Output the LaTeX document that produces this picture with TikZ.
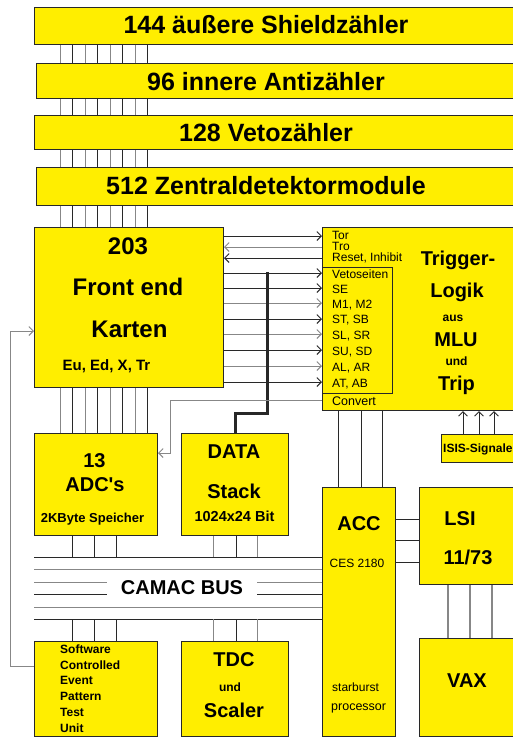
\documentclass[tikz,border=0pt]{standalone}
\usepackage{fontspec}
\setmainfont{Liberation Sans}
\usetikzlibrary{arrows.meta}
\definecolor{yel}{RGB}{255,238,0}
\definecolor{dk}{RGB}{40,40,40}
\definecolor{gr}{RGB}{135,135,135}
\begin{document}
\begin{tikzpicture}[x=1pt,y=-1pt,
  >={Straight Barb[length=4.5pt,width=9pt]},
  box/.style={draw=dk, fill=yel, line width=1pt, inner sep=0pt, anchor=north west},
  ln/.style={draw=dk, line width=0.9pt},
  lg/.style={draw=gr, line width=0.9pt},
  lgt/.style={draw=gr, line width=1.4pt},
  thickln/.style={draw=dk, line width=3pt},
  b25/.style={font=\bfseries\fontsize{25}{30}\selectfont, inner sep=0pt, text height=17.9pt, text depth=0pt},
  b24/.style={font=\bfseries\fontsize{24}{28}\selectfont, inner sep=0pt, text height=17.2pt, text depth=0pt},
  b20/.style={font=\bfseries\fontsize{20}{24}\selectfont, inner sep=0pt, text height=14.3pt, text depth=0pt},
  b15/.style={font=\bfseries\fontsize{15}{18}\selectfont, inner sep=0pt, text height=10.7pt, text depth=0pt},
  b14/.style={font=\bfseries\fontsize{14.5}{17}\selectfont, inner sep=0pt, text height=10.4pt, text depth=0pt},
  b13/.style={font=\bfseries\fontsize{13}{16}\selectfont, inner sep=0pt, text height=9.3pt, text depth=0pt},
  b12/.style={font=\bfseries\fontsize{12}{14}\selectfont, inner sep=0pt, text height=8.6pt, text depth=0pt},
  r12/.style={font=\fontsize{12}{14}\selectfont, inner sep=0pt, text height=8.6pt, text depth=0pt},
  r125/.style={font=\fontsize{12.5}{15}\selectfont, inner sep=0pt, text height=9pt, text depth=0pt}
]
\useasboundingbox (0,0) rectangle (513,737);
\fill[white] (0,0) rectangle (513,737);
\clip (0,0) rectangle (513,737);

% boxes
\node[box, minimum width=490pt, minimum height=37pt] (bar1) at (34,7) {};
\node[box, minimum width=490pt, minimum height=35pt] (bar2) at (36,63) {};
\node[box, minimum width=490pt, minimum height=34pt] (bar3) at (34,115) {};
\node[box, minimum width=490pt, minimum height=38pt] (bar4) at (36,167) {};
\node[box, minimum width=189pt, minimum height=160pt] (fe) at (34,227) {};
\node[box, minimum width=200pt, minimum height=183pt] (trig) at (322,227) {};
\node[box, minimum width=70pt, minimum height=126pt] (veto) at (322,267) {};
\node[box, minimum width=123pt, minimum height=102pt] (adc) at (34,433) {};
\node[box, minimum width=107pt, minimum height=102pt] (data) at (181,433) {};
\node[box, minimum width=73pt, minimum height=249pt] (acc) at (322,487) {};
\node[box, minimum width=80pt, minimum height=28pt] (isis) at (441,434) {};
\node[box, minimum width=100pt, minimum height=97pt] (lsi) at (419,487) {};
\node[box, minimum width=100pt, minimum height=98pt] (vax) at (419,638) {};
\node[box, minimum width=123pt, minimum height=95pt] (sw) at (34,641) {};
\node[box, minimum width=107pt, minimum height=95pt] (tdc) at (181,641) {};

% vertical bundles
\foreach \x/\s in {60/lg,72.7/ln,85/lg,97.7/ln,110/lg,122.7/ln,135/lg,147.3/ln} {
  \draw[\s] (bar1.south -| \x,0) -- (bar2.north -| \x,0);
  \draw[\s] (bar2.south -| \x,0) -- (bar3.north -| \x,0);
  \draw[\s] (bar3.south -| \x,0) -- (bar4.north -| \x,0);
  \draw[\s] (bar4.south -| \x,0) -- (fe.north -| \x,0);
  \draw[\s] (fe.south -| \x,0) -- (adc.north -| \x,0);
}

% front end <-> trigger
\draw[ln,->] (fe.east |- 0,236) -- (trig.west |- 0,236);
\draw[lg,<-] (fe.east |- 0,247) -- (trig.west |- 0,247);
\draw[ln,<-] (fe.east |- 0,258) -- (trig.west |- 0,258);
\foreach \y/\s in {273/ln,288/ln,303/lg,319/ln,334/lg,350/ln,366/lg,382/ln}
  \draw[\s,->] (fe.east |- 0,\y) -- (veto.west |- 0,\y);

% data stack thick line
\coordinate (dtop) at (267,272);
\draw[thickln, line join=miter] (dtop) -- (dtop |- 0,413) -| (data.north);

% convert -> ADC
\draw[lg,->] (trig.west |- 0,400) -| (170,453) -- (adc.east |- 0,453);

% left loop
\draw[lg,->] (sw.west |- 0,666) -| (10,331) -- (fe.west |- 0,331);

% trigger -> ACC, ISIS -> trigger
\foreach \x in {338,361,382} \draw[ln] (trig.south -| \x,0) -- (acc.north -| \x,0);
\foreach \x in {463,479,494} \draw[ln,->] (isis.north -| \x,0) -- (trig.south -| \x,0);

% ACC - LSI, LSI - VAX
\foreach \y in {519,540,562} \draw[ln] (acc.east |- 0,\y) -- (lsi.west |- 0,\y);
\foreach \x in {448,470,492} \draw[lgt] (lsi.south -| \x,0) -- (vax.north -| \x,0);

% CAMAC bus
\node[b20] (camac) at (182,587.5) {CAMAC BUS};
\coordinate (busL) at (34,557);
\coordinate (busB) at (34,619);
\coordinate (gapL) at (107,0);
\coordinate (gapR) at (257,0);
\foreach \y/\s in {557/ln,569/lg,607/lg,619/ln}
  \draw[\s] (busL |- 0,\y) -- (acc.west |- 0,\y);
\foreach \y/\s in {582/lg,594/ln} {
  \draw[\s] (busL |- 0,\y) -- (gapL |- 0,\y);
  \draw[\s] (gapR |- 0,\y) -- (acc.west |- 0,\y);
}
\foreach \x in {72,94,116} {
  \draw[ln] (adc.south -| \x,0) -- (busL -| \x,0);
  \draw[ln] (busB -| \x,0) -- (sw.north -| \x,0);
}
\foreach \x/\s in {213/lg,236/ln,257/lg} {
  \draw[\s] (data.south -| \x,0) -- (busL -| \x,0);
  \draw[\s] (busB -| \x,0) -- (tdc.north -| \x,0);
}

% texts
\node[b25] (t1) at (266,25) {144 äußere Shieldzähler};
\node[b25] (t2) at (266,81.7) {96 innere Antizähler};
\node[b25] (t3) at (266,133) {128 Vetozähler};
\node[b25] (t4) at (266,186) {512 Zentraldetektormodule};

\node[b24] (f1) at (128,246) {203};
\node[b24] (f2) at (128,286.7) {Front end};
\node[b24] (f3) at (129.5,328.7) {Karten};
\node[b15] (f4) at (106.5,365.5) {Eu, Ed, X, Tr};

\node[r12, anchor=west] (l1) at (332,235) {Tor};
\node[r12, anchor=west] (l2) at (332,246.5) {Tro};
\node[r12, anchor=west] (l3) at (332,257) {Reset, Inhibit};
\node[r12, anchor=west] (l4) at (332,274) {Vetoseiten};
\node[r12, anchor=west] (l5) at (332,289) {SE};
\node[r12, anchor=west] (l6) at (332,304.3) {M1, M2};
\node[r12, anchor=west] (l7) at (332,319.3) {ST, SB};
\node[r12, anchor=west] (l8) at (332,335) {SL, SR};
\node[r12, anchor=west] (l9) at (332,351) {SU, SD};
\node[r12, anchor=west] (l10) at (332,366.8) {AL, AR};
\node[r12, anchor=west] (l11) at (332,383.5) {AT, AB};
\node[r125, anchor=west] (l12) at (332,401) {Convert};

\node[b20] (g1) at (458,258) {Trigger-};
\node[b20] (g2) at (457,290) {Logik};
\node[b12] (g3) at (453,317.4) {aus};
\node[b20] (g4) at (456,339) {MLU};
\node[b12] (g5) at (456.5,361.4) {und};
\node[b20] (g6) at (456.5,383) {Trip};

\node[b20] (a1) at (94.5,460) {13};
\node[b20] (a2) at (95,484.7) {ADC\textquotesingle s};
\node[b13] (a3) at (92.5,518) {2KByte Speicher};

\node[b20] (d1) at (234,451.3) {DATA};
\node[b20] (d2) at (234,491.5) {Stack};
\node[b14] (d3) at (234.5,516.5) {1024x24 Bit};

\node[b20] (c1) at (359,523.7) {ACC};
\node[r12] (c2) at (357,563.5) {CES 2180};
\node[r12, anchor=west] (c3) at (332,686.7) {starburst};
\node[r125, anchor=west] (c4) at (331,705.7) {processor};

\node[b12, anchor=west] (i1) at (443,448.3) {ISIS-Signale};

\node[b20] (s1) at (460,518.8) {LSI};
\node[b20] (s2) at (468,557) {11/73};

\node[b12, anchor=west] (w1) at (60,648.8) {Software};
\node[b12, anchor=west] (w2) at (60,664.7) {Controlled};
\node[b12, anchor=west] (w3) at (60,680.5) {Event};
\node[b12, anchor=west] (w4) at (60,696) {Pattern};
\node[b12, anchor=west] (w5) at (60,712) {Test};
\node[b12, anchor=west] (w6) at (60,727.8) {Unit};

\node[b20] (x1) at (234,659) {TDC};
\node[b12] (x2) at (230,686.7) {und};
\node[b20] (x3) at (234,710) {Scaler};

\node[b20] (v1) at (467,680.8) {VAX};
\end{tikzpicture}
\end{document}
